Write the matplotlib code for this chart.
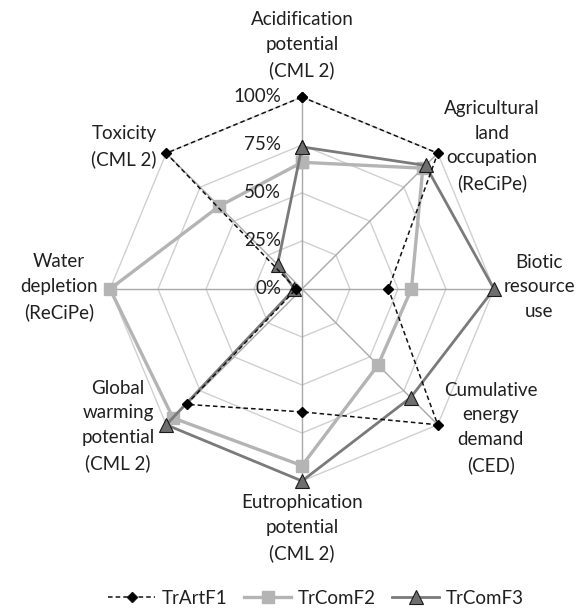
import numpy as np
import matplotlib
matplotlib.use("Agg")
import matplotlib.pyplot as plt
from matplotlib.lines import Line2D

plt.rcParams['font.family'] = ['Lato', 'DejaVu Sans']

categories = ["Acidification\npotential\n(CML 2)",
              "Agricultural\nland\noccupation\n(ReCiPe)",
              "Biotic\nresource\nuse",
              "Cumulative\nenergy\ndemand\n(CED)",
              "Eutrophication\npotential\n(CML 2)",
              "Global\nwarming\npotential\n(CML 2)",
              "Water\ndepletion\n(ReCiPe)",
              "Toxicity\n(CML 2)"]
series_names = ["TrArtF1", "TrComF2", "TrComF3"]
tr_art_f1 = [1.00, 1.00, 0.45, 1.00, 0.64, 0.85, 0.03, 1.00]
tr_com_f2 = [0.66, 0.89, 0.57, 0.56, 0.92, 0.95, 1.00, 0.61]
tr_com_f3 = [0.74, 0.91, 1.00, 0.80, 1.00, 1.00, 0.04, 0.18]
ring_levels = [0.25, 0.50, 0.75, 1.00]
tick_values = [0.0, 0.25, 0.50, 0.75, 1.00]
tick_labels = ["0%", "25%", "50%", "75%", "100%"]

FS = 13.5
W, H = 583, 616
fig = plt.figure(figsize=(W / 100, H / 100), dpi=100)
cx, cy, R = 302, 289, 192
ax = fig.add_axes([(cx - R) / W, (H - cy - R) / H, 2 * R / W, 2 * R / H],
                  projection='polar')
ax.set_theta_zero_location('N')
ax.set_theta_direction(-1)
ax.set_ylim(0, 1)
ax.grid(False)
ax.spines['polar'].set_visible(False)
ax.set_xticks([])
ax.set_yticks([])
ax.patch.set_alpha(0)

n = len(categories)
theta = np.arange(n) * 2 * np.pi / n
theta_c = np.append(theta, theta[0])

# grid rings (octagons)
for lv in ring_levels:
    ax.plot(theta_c, [lv] * (n + 1), color='#d0d0d0', lw=1.0, zorder=1, clip_on=False)
# spokes
for t in theta:
    ax.plot([t, t], [0, 1], color='#a8a8a8', lw=1.0, zorder=1, clip_on=False)

def closed(v):
    return np.append(v, v[0])

ax.plot(theta_c, closed(tr_com_f2), color='#b4b4b4', lw=2.4, marker='s',
        markersize=9, markerfacecolor='#b4b4b4', markeredgecolor='#b4b4b4',
        zorder=3, clip_on=False)
ax.plot(theta_c, closed(tr_com_f3), color='#7a7a7a', lw=2.0, marker='^',
        markersize=10, markerfacecolor='#6e6e6e', markeredgecolor='#1a1a1a',
        markeredgewidth=0.8, zorder=4, clip_on=False)
ax.plot(theta_c, closed(tr_art_f1), color='#111111', lw=1.1, ls=(0, (3, 2)),
        marker='D', markersize=5, markerfacecolor='#000000',
        markeredgecolor='#000000', zorder=5, clip_on=False)

# category labels
offsets = [(0, 52), (54, 7), (45, 2), (53, -3), (0, -47), (-48, -1), (-51, 2), (-42, 7)]
for t, lab, off in zip(theta, categories, offsets):
    ax.annotate(lab, xy=(t, 1.0), xytext=off, textcoords='offset pixels',
                ha='center', va='center', fontsize=FS, color='#202020',
                linespacing=1.55, annotation_clip=False, zorder=6)

# tick labels
for v, s in zip(tick_values, tick_labels):
    ax.annotate(s, xy=(0, v), xytext=(-21, 0), textcoords='offset pixels',
                ha='right', va='center', fontsize=FS, color='#202020',
                annotation_clip=False, zorder=6)

handles = [
    Line2D([], [], color='#111111', lw=1.1, ls=(0, (3, 2)), marker='D',
           markersize=5, markerfacecolor='#000000'),
    Line2D([], [], color='#b4b4b4', lw=2.4, marker='s', markersize=9,
           markerfacecolor='#b4b4b4', markeredgecolor='#b4b4b4'),
    Line2D([], [], color='#7a7a7a', lw=2.0, marker='^', markersize=10,
           markerfacecolor='#6e6e6e', markeredgecolor='#1a1a1a', markeredgewidth=0.8),
]
fig.legend(handles, series_names, loc='center', ncol=3, frameon=False,
           bbox_to_anchor=(316 / W, 1 - 598 / H), fontsize=FS,
           handlelength=2.5, handletextpad=0.35, columnspacing=0.9,
           labelcolor='#202020')

fig.savefig('out.png', dpi=100)
